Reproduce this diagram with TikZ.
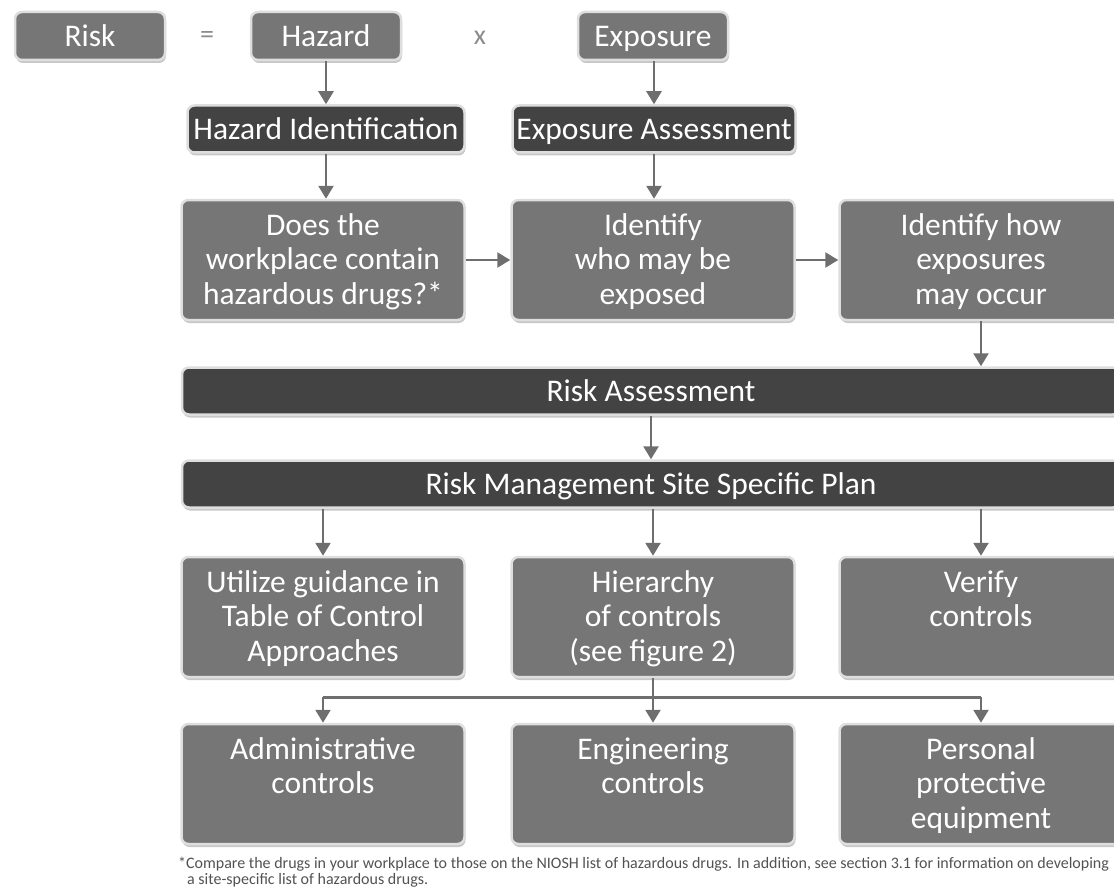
\documentclass[tikz,border=0pt]{standalone}
\usepackage{fontspec}
\setmainfont{Carlito}
\usetikzlibrary{arrows.meta,shadows,calc}
\definecolor{boxgray}{HTML}{767676}
\definecolor{bardark}{HTML}{434343}
\definecolor{linkgray}{HTML}{6E6E6E}
\definecolor{rimgray}{HTML}{DEDEDE}

\begin{document}
\begin{tikzpicture}[x=1pt, y=-1pt]

      \tikzset{
        box/.style={rectangle, rounded corners=7pt, fill=boxgray, draw=rimgray, line width=2.5pt,
          text=white, align=flush center, font=\fontsize{31.5}{34.5}\selectfont, inner sep=2pt,
          text height=31pt, text depth=10pt,
          minimum width=283pt, minimum height=47pt,
          drop shadow={shadow xshift=1pt, shadow yshift=-3pt, opacity=.22, fill=black}},
        small/.style={box, minimum width=150pt, minimum height=48pt},
        dark/.style={box, fill=bardark},
        bar/.style={dark, minimum width=938pt},
        tall/.style={box, text width=275pt, text height=33pt, text depth=83pt},
        sign/.style={text=black!45, font=\fontsize{28}{30}\selectfont, anchor=base},
        link/.style={draw=linkgray, line width=2.5pt, -{Triangle[width=15pt,length=13pt]}},
      }

      \clip (0,0) rectangle (1114,888);

      \node[small](risk) at (90,36) {Risk};
      \node[sign](eq) at (207,44) {=};
      \node[small](haz) at (326,36) {Hazard};
      \node[sign](times) at (480,45) {x};
      \node[small](expo) at (653,36) {Exposure};

      \node[dark, minimum width=277pt](hazid) at (326,129) {Hazard Identification};
      \node[dark](expass) at (654,129) {Exposure Assessment};

      \node[tall](does) at (323,260) {Does the\\workplace contain\\hazardous drugs?*};
      \node[tall](who) at (653,260) {Identify\\who may be\\exposed};
      \node[tall](how) at (981,260) {Identify how\\exposures\\may occur};

      \node[bar](riskass) at (651,391) {Risk Assessment};
      \node[bar](plan) at (651,484) {Risk Management Site Specific Plan};

      \node[tall](guide) at (323,617) {Utilize guidance in\\Table of Control\\Approaches};
      \node[tall](hier) at (653,617) {Hierarchy\\of controls\\(see figure 2)};
      \node[tall](verify) at (981,617) {Verify\\controls};

      \node[tall](admin) at (323,784) {Administrative\\controls};
      \node[tall](eng) at (653,784) {Engineering\\controls};
      \node[tall](ppe) at (981,784) {Personal\\protective\\equipment};

      \node[anchor=base west, align=left, inner sep=0pt, text=black!68, font=\fontsize{16}{16}\selectfont](note) at (178,884)
        {*Compare the drugs in your workplace to those on the NIOSH list of hazardous drugs. In addition, see section 3.1 for information on developing\\
         \hspace*{9pt}a site-specific list of hazardous drugs.};

      \draw[link] (haz) -- (hazid);
      \draw[link] (expo.south -| expass) -- (expass);
      \draw[link] (hazid.south) -- (hazid.south |- does.north);
      \draw[link] (expass.south) -- (expass.south |- who.north);
      \draw[link] (does) -- (who);
      \draw[link] (who) -- (how);
      \draw[link] (how.south) -- (how.south |- riskass.north);
      \draw[link] (riskass) -- (plan);
      \foreach \b in {guide,hier,verify} { \draw[link] (plan.south -| \b) -- (\b.north); };

      \coordinate (split) at ($(hier.south)+(0,19)$);
      \draw[link, -] (hier.south) -- (split) (split -| admin) -- (split -| ppe);
      \foreach \b in {admin,eng,ppe} { \draw[link] (split -| \b) -- (\b.north); };

    \end{tikzpicture}
\end{document}
